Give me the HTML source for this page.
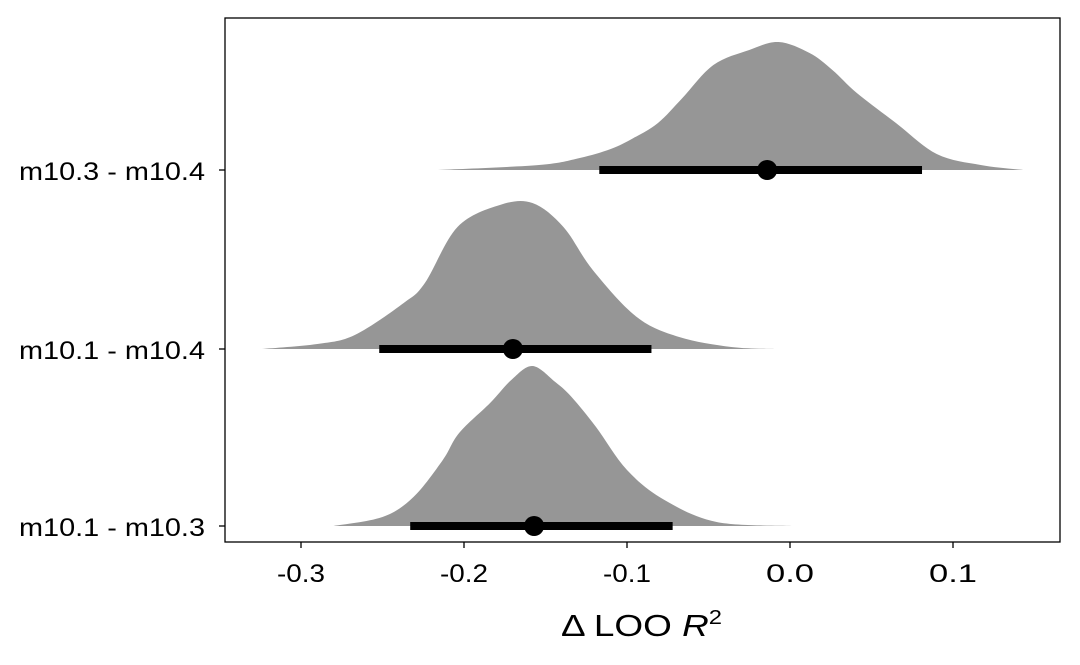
<!DOCTYPE html>
<html><head><meta charset="utf-8"><style>
body{margin:0;background:#fff;}
svg text{font-family:"Liberation Sans",Arial,sans-serif;fill:#000;}
</style></head><body>
<svg id="chart" width="1080" height="660" viewBox="0 0 1080 660">
<rect x="225" y="18" width="835" height="524" fill="#fff" stroke="#000" stroke-width="1.3"/>
<g id="marks"></g>
<g id="axes"></g>
<text x="561" y="636" font-size="31" textLength="161" lengthAdjust="spacingAndGlyphs">Δ LOO <tspan font-style="italic">R</tspan><tspan font-size="20" dy="-12">2</tspan></text>
</svg>
<script>
const categories = ["m10.3 - m10.4", "m10.1 - m10.4", "m10.1 - m10.3"];
const densX1 = [-0.216,-0.154,-0.129,-0.110,-0.096,-0.081,-0.066,-0.047,-0.025,-0.007,0.012,0.026,0.041,0.065,0.090,0.117,0.143];
const densY1 = [0,0.05,0.12,0.21,0.32,0.47,0.72,1.05,1.20,1.28,1.17,1.00,0.77,0.47,0.16,0.05,0];
const densX2 = [-0.324,-0.290,-0.267,-0.237,-0.224,-0.204,-0.178,-0.158,-0.139,-0.121,-0.094,-0.068,-0.036,-0.009];
const densY2 = [0,0.05,0.14,0.46,0.66,1.22,1.44,1.46,1.22,0.79,0.32,0.12,0.02,0];
const densX3 = [-0.280,-0.250,-0.231,-0.213,-0.203,-0.184,-0.171,-0.158,-0.144,-0.134,-0.119,-0.100,-0.077,-0.045,0.001];
const densY3 = [0,0.09,0.29,0.66,0.93,1.23,1.46,1.60,1.44,1.29,0.99,0.56,0.26,0.04,0];
const intervalLow = [-0.117,-0.252,-0.233];
const intervalHigh = [0.081,-0.085,-0.072];
const pointEst = [-0.014,-0.170,-0.157];
const xTicks = [-0.3,-0.2,-0.1,0.0,0.1];
const xTickLabels = ["-0.3","-0.2","-0.1","0.0","0.1"];

const NS="http://www.w3.org/2000/svg";
const xs = v => 790 + v*1630;
const rowY = i => [170,349,526][i];
const ds = d => d*100;
const marks=document.getElementById('marks'), axes=document.getElementById('axes');
function mk(tag,attrs,parent){const e=document.createElementNS(NS,tag);for(const k in attrs)e.setAttribute(k,attrs[k]);parent.appendChild(e);return e;}
function smoothPath(pts){
  let d=`M${pts[0][0]},${pts[0][1]}`;
  for(let i=0;i<pts.length-1;i++){
    const p0=pts[Math.max(0,i-1)],p1=pts[i],p2=pts[i+1],p3=pts[Math.min(pts.length-1,i+2)];
    const c1=[p1[0]+(p2[0]-p0[0])/6,p1[1]+(p2[1]-p0[1])/6];
    const c2=[p2[0]-(p3[0]-p1[0])/6,p2[1]-(p3[1]-p1[1])/6];
    d+=` C${c1[0]},${c1[1]} ${c2[0]},${c2[1]} ${p2[0]},${p2[1]}`;
  }
  return d;
}
const densXs=[densX1,densX2,densX3], densYs=[densY1,densY2,densY3];
categories.forEach((c,i)=>{
  const by=rowY(i);
  const pts=densXs[i].map((x,j)=>[xs(x),by-ds(densYs[i][j])]);
  const p=mk('path',{d:smoothPath(pts)+` L${xs(densXs[i][densXs[i].length-1])},${by} L${xs(densXs[i][0])},${by} Z`,fill:'#969696'},marks);
  
  
  const l=mk('line',{x1:xs(intervalLow[i]),x2:xs(intervalHigh[i]),y1:by,y2:by,stroke:'#000','stroke-width':8},marks);
  
  
  const d=mk('circle',{cx:xs(pointEst[i]),cy:by,r:10,fill:'#000'},marks);
  
  
  const t=mk('line',{x1:219,x2:225,y1:by,y2:by,stroke:'#000','stroke-width':1.3},axes);
  
  
  const tl=mk('text',{x:19,y:by+10,'font-size':25,textLength:186,lengthAdjust:'spacingAndGlyphs'},axes);
  tl.textContent=c;
  
  
});
xTicks.forEach((v,i)=>{
  const t=mk('line',{x1:xs(v),x2:xs(v),y1:542,y2:548,stroke:'#000','stroke-width':1.3},axes);
  
  
  const tl=mk('text',{x:xs(v)-24,y:582,'font-size':25,textLength:48,lengthAdjust:'spacingAndGlyphs'},axes);
  tl.textContent=xTickLabels[i];
  
  
});
</script>
</body></html>
